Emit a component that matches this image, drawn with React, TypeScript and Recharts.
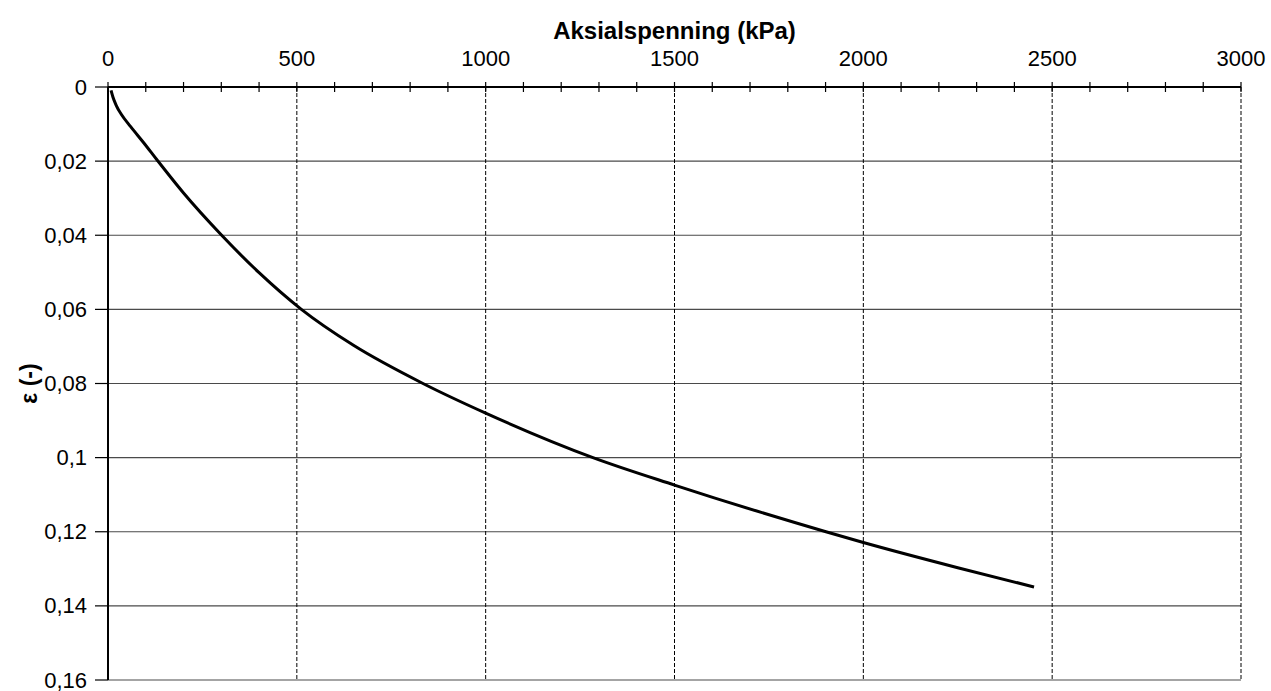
import { CartesianGrid, Label, Line, LineChart, ReferenceLine, XAxis, YAxis } from "recharts";

// values (stress kPa, axial strain)
const stress = [8, 13, 22, 36, 60, 95, 130, 200, 301, 400, 512, 650, 834, 1000, 1284, 1500, 1901, 2000, 2250, 2452];
const strain = [0.0009, 0.0027, 0.005, 0.0075, 0.0107, 0.0151, 0.0197, 0.0286, 0.04, 0.0501, 0.06, 0.0697, 0.08, 0.088, 0.1, 0.1074, 0.12, 0.1229, 0.1297, 0.1349];

const X_TICKS = Array.from({ length: 31 }, (_, i) => i * 100);
const X_GRID = [500, 1000, 1500, 2000, 2500, 3000];
const Y_TICKS = [0, 0.02, 0.04, 0.06, 0.08, 0.1, 0.12, 0.14, 0.16];
const Y_TICK_LABELS = ["0", "0,02", "0,04", "0,06", "0,08", "0,1", "0,12", "0,14", "0,16"];

const FONT = "'Liberation Sans', Arial, sans-serif";

const data = stress.map((s, i) => ({ stress: s, strain: strain[i] }));

const XTick = ({ x, y, payload }: any) => {
  const v = payload.value;
  return (
    <g>
      <line x1={x} x2={x} y1={y - 5} y2={y + 5} stroke="#000" strokeWidth={1.2} />
      {v % 500 === 0 && (
        <text x={x} y={y - 21} textAnchor="middle" fontSize={22} fontFamily={FONT} fill="#000">
          {v}
        </text>
      )}
    </g>
  );
};

const YTick = ({ x, y, payload }: any) => {
  const idx = Y_TICKS.findIndex((t) => Math.abs(t - payload.value) < 1e-9);
  return (
    <g>
      <line x1={x - 13} x2={x} y1={y} y2={y} stroke="#000" strokeWidth={1.2} />
      <text x={x - 21} y={y + 7.5} textAnchor="end" fontSize={22} fontFamily={FONT} fill="#000">
        {Y_TICK_LABELS[idx] ?? ""}
      </text>
    </g>
  );
};

const XTitle = ({ viewBox }: any) => {
  const { x, y, width } = viewBox;
  return (
    <text x={x + width / 2} y={y + 38.5} textAnchor="middle" fontSize={24} fontWeight="bold" fontFamily={FONT} fill="#000">
      Aksialspenning (kPa)
    </text>
  );
};

const YTitle = ({ viewBox }: any) => {
  const { x, y, height } = viewBox;
  const cx = x + 29;
  const cy = y + height / 2;
  return (
    <text
      x={cx}
      y={cy}
      transform={`rotate(-90 ${cx} ${cy})`}
      textAnchor="middle"
      dominantBaseline="central"
      fontSize={23}
      fontWeight="bold"
      fontFamily={FONT}
      fill="#000"
    >
      ε (-)
    </text>
  );
};

export default function App() {
  return (
    <div style={{ position: "absolute", left: 0, top: 0 }}>
      <LineChart width={1271} height={691} data={data} margin={{ top: 0, right: 30, bottom: 11, left: 0 }}>
        <CartesianGrid vertical={false} stroke="#4a4a4a" strokeWidth={1.2} />
        {X_GRID.map((g) => (
          <ReferenceLine key={g} x={g} stroke="#000" strokeWidth={1} strokeDasharray="4 2" />
        ))}
        <XAxis
          type="number"
          dataKey="stress"
          orientation="top"
          domain={[0, 3000]}
          ticks={X_TICKS}
          interval={0}
          height={87}
          tickSize={0}
          tickMargin={0}
          tickLine={false}
          axisLine={{ stroke: "#000", strokeWidth: 2 }}
          tick={<XTick />}
        >
          <Label content={<XTitle />} />
        </XAxis>
        <YAxis
          type="number"
          dataKey="strain"
          reversed
          domain={[0, 0.16]}
          ticks={Y_TICKS}
          interval={0}
          width={108}
          tickSize={0}
          tickMargin={0}
          tickLine={false}
          axisLine={{ stroke: "#000", strokeWidth: 2 }}
          tick={<YTick />}
        >
          <Label content={<YTitle />} />
        </YAxis>
        <Line
          type="monotone"
          dataKey="strain"
          stroke="#000"
          strokeWidth={3}
          dot={false}
          isAnimationActive={false}
        />
      </LineChart>
    </div>
  );
}
